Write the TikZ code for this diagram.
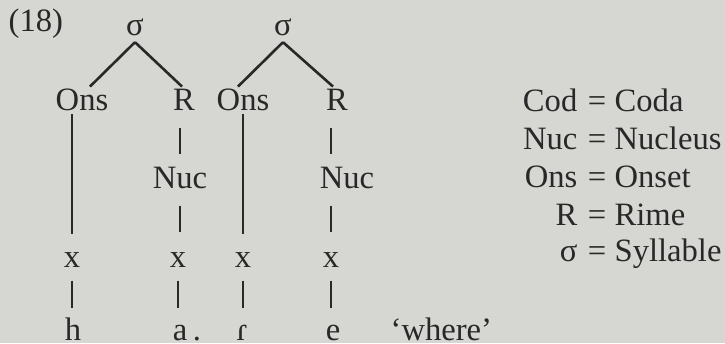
\documentclass[tikz,border=0pt]{standalone}
\usepackage{fontspec}
\setmainfont{Liberation Serif}
\definecolor{bgc}{RGB}{214,214,210}
\definecolor{ink}{RGB}{40,40,40}
\begin{document}
\begin{tikzpicture}[x=0.3067pt,y=-0.3067pt,
  every node/.style={inner sep=0pt,text height=7pt,text depth=2pt,anchor=base,text=ink,font=\fontsize{10}{12}\selectfont},
  branch/.style={draw=ink,line width=0.8pt},
  tier/.style={draw=ink,line width=0.9pt},
  bar/.style={draw=ink,line width=0.5pt}]
\fill[bgc] (0,0) rectangle (725,343);
\useasboundingbox (0,0) rectangle (725,343);
% label
\node[anchor=base west] (lab) at (8,31) {(18)};
% syllables
\node (s1) at (135,35) {σ};
\node (s2) at (283,35) {σ};
\node (O1) at (82,110) {Ons};
\node (R1) at (184,110) {R};
\node (O2) at (243,110) {Ons};
\node (R2) at (337,110) {R};
\node (N1) at (180,188) {Nuc};
\node (N2) at (347,188) {Nuc};
\node (x1) at (72,267) {x};
\node (x2) at (178,267) {x};
\node (x3) at (243,267) {x};
\node (x4) at (331,267) {x};
\node (h) at (73,340) {h};
\node (a) at (180,340) {a};
\node (dot) at (197,340) {.};
\node (r) at (242,340) {ɾ};
\node (e) at (333,340) {e};
\node[anchor=base west] (gl) at (390,340) {‘where’};
% branches
\draw[branch] (s1.south) -- ([xshift=8*0.3067pt]O1.north);
\draw[branch] (s1.south) -- ([xshift=-2*0.3067pt]R1.north);
\draw[branch] (s2.south) -- ([xshift=-5*0.3067pt]O2.north);
\draw[branch] (s2.south) -- ([xshift=-4*0.3067pt]R2.north);
% onset lines
\draw[tier,shorten <=-1pt,shorten >=2.8pt] (O1.south -| x1) -- (x1.north);
\draw[tier,shorten <=-1pt,shorten >=2.8pt] (O2.south -| x3) -- (x3.north);
% short bars
\draw[bar,shorten <=3.2pt,shorten >=3.1pt] (R1.south -| N1) -- (N1.north);
\draw[bar,shorten <=3.2pt,shorten >=3.4pt] (N1.south) -- (N1.south |- x2.north);
\draw[bar,shorten <=3.2pt,shorten >=3.1pt] (R2.south -| x4) -- (N2.north -| x4);
\draw[bar,shorten <=3.2pt,shorten >=3.4pt] (N2.south -| x4) -- (x4.north);
\draw[bar,shorten <=2pt,shorten >=2.6pt] (x1.south) -- (x1.south |- h.north);
\draw[bar,shorten <=2pt,shorten >=2.6pt] (x2.south) -- (x2.south |- a.north);
\draw[bar,shorten <=2pt,shorten >=2.6pt] (x3.south) -- (x3.south |- r.north);
\draw[bar,shorten <=2pt,shorten >=2.6pt] (x4.south) -- (x4.south |- e.north);
% legend
\foreach \k/\l/\r/\y in {c/Cod/Coda/111, n/Nuc/Nucleus/149, o/Ons/Onset/187, r/R/Rime/225, s/σ/Syllable/261}{
  \node[anchor=base east] (L\k) at (578,\y) {\l};
  \node (E\k) at (597,\y) {=};
  \node[anchor=base west] (D\k) at (614,\y) {\r};
}
\end{tikzpicture}
\end{document}
